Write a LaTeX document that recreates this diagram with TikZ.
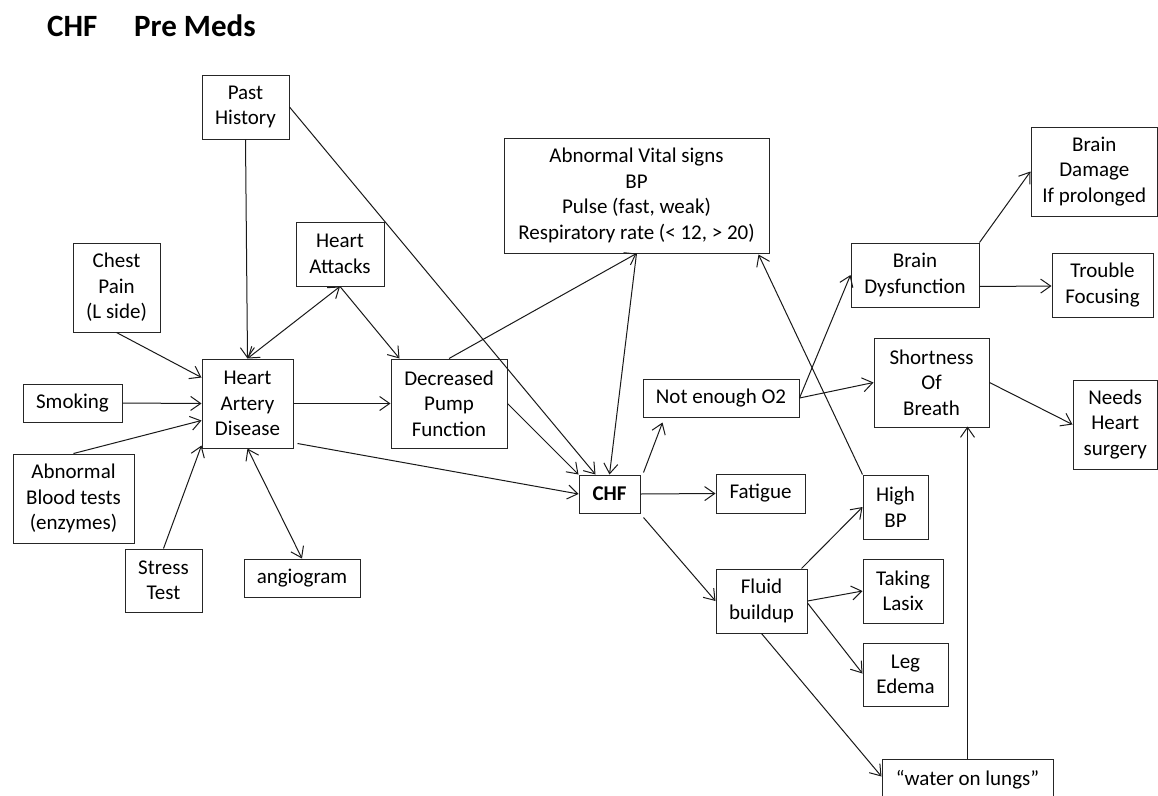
\documentclass[tikz,border=0pt]{standalone}
\usepackage{fontspec}
\setmainfont{Carlito}
\usetikzlibrary{arrows.meta,calc}
\newcommand\bx[6]{\node[box,minimum width=#4-#2, minimum height=#5-#3] (#1) at ({(#2+#4)/2},{(#3+#5)/2}) {#6};}
\begin{document}
\begin{tikzpicture}[x=1pt,y=-1pt,
  box/.style={draw=black!85, line width=1pt, align=center, inner sep=0pt, font=\fontsize{21}{25.5}\selectfont},
  arr/.style={line width=1pt, draw=black!90, -{Straight Barb[length=10pt,width=14pt]}},
  darr/.style={line width=1pt, draw=black!90, {Straight Barb[length=10pt,width=14pt]}-{Straight Barb[length=10pt,width=14pt]}},
  ttl/.style={anchor=base west, inner sep=0pt, font=\fontsize{31}{37}\selectfont\bfseries}]
\useasboundingbox (0,0) rectangle (1158,795);
\fill[white] (0,0) rectangle (1158,795);
\node[ttl] (t1) at (47,36.7) {CHF};
\node[ttl] (t2) at (134,36.7) {Pre Meds};
\bx{past}{202}{75}{289}{139}{Past\\History}
\bx{ha}{296}{222}{384}{286}{Heart\\Attacks}
\bx{chest}{73}{243}{160}{332}{Chest\\Pain\\(L side)}
\bx{had}{202}{359}{293}{448}{Heart\\Artery\\Disease}
\bx{smoking}{23}{384}{122}{422}{Smoking}
\bx{blood}{13}{454}{134}{543}{Abnormal\\Blood tests\\(enzymes)}
\bx{stress}{125}{549}{202}{612}{Stress\\Test}
\bx{angio}{244}{559}{360}{597}{angiogram}
\bx{vital}{504}{138}{769}{253}{Abnormal Vital signs\\BP\\Pulse (fast, weak)\\Respiratory rate (< 12, > 20)}
\bx{pump}{391}{359}{507}{448}{Decreased\\Pump\\Function}
\bx{o2}{643}{379}{799}{417}{Not enough O2}
\bx{chf}{579}{475}{640}{513}{\bfseries CHF}
\bx{fatigue}{716}{474}{805}{513}{Fatigue}
\bx{highbp}{863}{475}{928}{539}{High\\BP}
\bx{fluid}{716}{569}{807}{633}{Fluid\\buildup}
\bx{lasix}{863}{559}{943}{623}{Taking\\Lasix}
\bx{edema}{863}{643}{948}{706}{Leg\\Edema}
\bx{water}{882}{759}{1053}{801}{“water on lungs”}
\bx{braindmg}{1031}{127}{1157.5}{216}{Brain\\Damage\\If prolonged}
\bx{braindys}{851}{243}{979}{307}{Brain\\Dysfunction}
\bx{trouble}{1052}{253}{1153}{317}{Trouble\\Focusing}
\bx{sob}{874}{338}{989}{427}{Shortness\\Of\\Breath}
\bx{needs}{1073}{380}{1157.5}{469}{Needs\\Heart\\surgery}
% connectors
\draw[arr] (past.south) -- (had.north);
\draw[arr] (past.east) -- ($(chf.north west)+(17,0)$);
\draw[darr] (had.north) -- (ha.south);
\draw[arr] (ha.south) -- ($(pump.north west)+(9,0)$);
\draw[arr] (chest.south) -- ($(had.north west)+(0,19)$);
\draw[arr] (smoking.east) -- (had.west);
\draw[arr] (blood.north) -- ($(had.north west)+(0,62)$);
\draw[arr] (stress.north) -- ($(had.south west)+(0,-3)$);
\draw[darr] (had.south) -- (angio.north);
\draw[arr] (had.east) -- (pump.west);
\draw[arr] ($(had.south east)+(4,-5)$) -- (chf.west);
\draw[arr] (pump.east) -- (chf.north west);
\draw[arr] (pump.north) -- (vital.south);
\draw[arr] (vital.south) -- (chf.north);
\draw[arr] ($(chf.north east)+(3,-2)$) -- ($(o2.south west)+(20,5)$);
\draw[arr] (chf.east) -- (fatigue.west);
\draw[arr] ($(chf.south east)+(3,4)$) -- (fluid.west);
\draw[arr] (highbp.north west) -- ($(vital.south east)+(-11,1)$);
\draw[arr] ($(fluid.north east)+(-6,0)$) -- (highbp.west);
\draw[arr] (fluid.east) -- (lasix.west);
\draw[arr] ($(fluid.east)+(0,2)$) -- ($(edema.west)+(0,-1)$);
\draw[arr] (fluid.south) -- ($(water.north west)+(0,18)$);
\draw[arr] ($(water.north west)+(86,0)$) -- ($(sob.south west)+(94,-1)$);
\draw[arr] (o2.east) -- (braindys.west);
\draw[arr] (o2.east) -- (sob.west);
\draw[arr] (braindys.north east) -- (braindmg.west);
\draw[arr] ($(braindys.south east)+(0,-21)$) -- ($(trouble.west)+(0,1)$);
\draw[arr] (sob.east) -- (needs.west);
\end{tikzpicture}
\end{document}
